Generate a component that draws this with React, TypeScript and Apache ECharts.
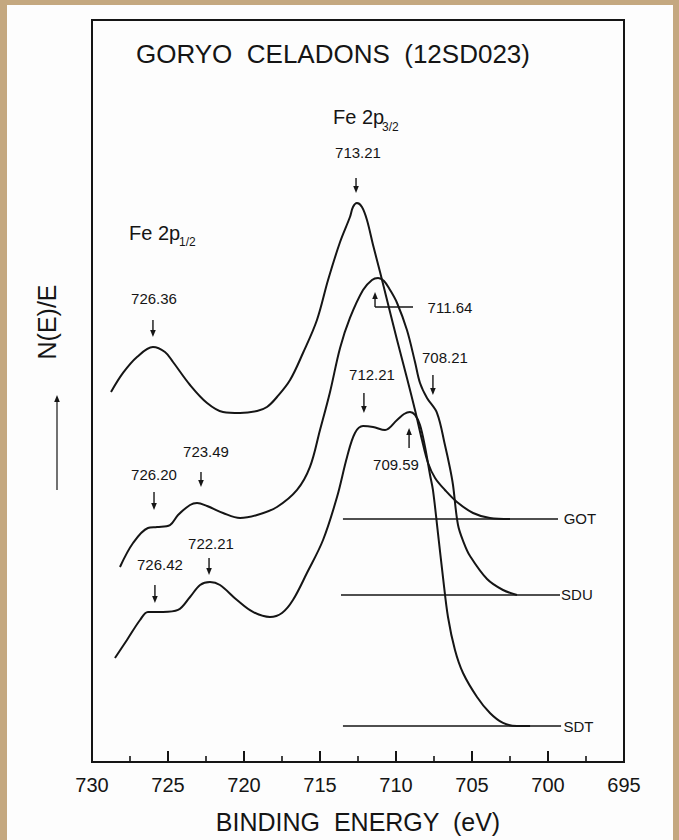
import React, { useEffect, useRef } from 'react';
import * as echarts from 'echarts';

const FONT = '"Liberation Sans", Arial, Helvetica, sans-serif';
const INK = '#151515';

// x axis (binding energy, eV)
const xMin = 695;
const xMax = 730;
const xInterval = 5;

// spectra: [binding energy (eV), N(E)/E arbitrary units]
const gotCurve = [
  [728.75, 49.87], [727.96, 52.43], [727.04, 54.58], [725.99, 55.93], [725.2, 55.26],
  [724.67, 53.91], [723.55, 50.81], [722.43, 48.38], [721.38, 47.17], [720.26, 47.03],
  [719.14, 47.3], [718.49, 47.84], [717.83, 49.19], [716.97, 51.48], [716.12, 55.12],
  [715.2, 59.57], [714.47, 64.96], [713.68, 70.08], [713.03, 73.45], [712.83, 74.8],
  [712.57, 75.34], [712.24, 74.8], [711.91, 73.05], [711.51, 69.68], [711.05, 66.04],
  [710.59, 62.26], [709.93, 56.87], [709.28, 51.75], [708.75, 47.44], [708.29, 43.4],
  [707.89, 40.3], [707.43, 38.27], [706.78, 36.66], [705.99, 35.04], [704.93, 33.56],
  [703.82, 32.88], [702.5, 32.75],
];

const sduCurve = [
  [728.16, 26.28], [727.3, 29.51], [726.32, 31.54], [725.72, 31.67], [724.87, 31.94],
  [724.34, 33.29], [723.55, 34.64], [723.09, 34.91], [722.43, 34.5], [721.38, 33.56],
  [720.26, 32.88], [719.14, 33.29], [717.83, 34.37], [716.51, 36.66], [715.66, 39.76],
  [715.0, 44.74], [714.34, 49.87], [713.68, 55.8], [713.03, 59.84], [712.17, 63.61],
  [711.58, 64.96], [711.18, 65.23], [710.79, 64.83], [710.39, 63.61], [709.93, 61.86],
  [709.28, 58.22], [708.75, 53.91], [708.42, 51.08], [707.96, 49.06], [707.3, 47.03],
  [706.78, 42.72], [706.45, 39.62], [706.25, 37.33], [705.92, 31.94], [705.53, 29.51],
  [705.13, 27.76], [704.01, 24.66], [702.96, 23.18], [702.04, 22.51],
];

const sdtCurve = [
  [728.49, 14.02], [727.7, 16.44], [726.84, 19.14], [726.32, 20.22], [725.33, 20.22],
  [724.34, 20.49], [723.55, 22.24], [722.89, 23.85], [722.24, 24.26], [721.58, 23.85],
  [720.46, 21.83], [719.41, 20.22], [718.29, 19.54], [717.5, 20.08], [716.78, 21.83],
  [715.86, 25.47], [714.8, 29.92], [713.88, 35.71], [713.22, 41.11], [712.7, 44.34],
  [712.17, 45.28], [711.51, 45.15], [710.72, 44.74], [709.93, 46.09], [709.47, 46.9],
  [709.08, 47.17], [708.75, 46.77], [708.42, 45.42], [708.09, 42.45], [707.76, 38.68],
  [707.57, 36.66], [707.24, 30.86], [706.91, 24.93], [706.58, 19.54], [706.12, 15.09],
  [705.59, 11.99], [704.67, 8.76], [703.82, 6.6], [702.96, 5.26], [702.04, 4.85],
  [701.18, 4.85],
];

// baselines of each spectrum
const baselineNames = ['GOT', 'SDU', 'SDT'];
const baselineLevel = [32.75, 22.51, 4.85];
const baselineFrom = [713.49, 713.62, 713.49];
const baselineTo = [699.34, 699.21, 699.14];
const baselineLabelAt = [697.9, 698.1, 698.0];

// peak annotations: label text, label position, arrow x, arrow tail y, arrow head y
const peakLabels = ['713.21', '726.36', '723.49', '726.20', '722.21', '726.42', '712.21', '708.21', '709.59', '711.64'];
const peakLabelE = [712.5, 725.92, 722.5, 725.92, 722.17, 725.53, 711.58, 706.78, 710.0, 706.45];
const peakLabelY = [82.08, 62.53, 41.91, 38.68, 29.51, 26.55, 52.16, 54.58, 40.03, 61.32];
const arrowE = [712.63, 725.99, 722.83, 725.92, 722.3, 725.86, 712.11, 707.57, 709.14, 711.38];
const arrowTail = [78.71, 59.57, 39.08, 36.39, 27.49, 23.85, 49.73, 52.16, 42.32, 61.32];
const arrowHead = [76.68, 57.28, 37.06, 33.96, 25.2, 21.43, 47.03, 49.46, 45.01, 63.34];
// leader line of the 711.64 label
const leaderFrom = [711.38, 61.32];
const leaderTo = [708.88, 61.32];

export default function App() {
  const ref = useRef<HTMLDivElement>(null);

  useEffect(() => {
    const chart = echarts.init(ref.current!, null, { renderer: 'svg' });

    const spectrum = (name: string, data: number[][]) => ({
      type: 'line',
      name,
      data,
      showSymbol: false,
      smooth: 0.35,
      silent: true,
      lineStyle: { color: INK, width: 2 },
      z: 3,
    });

    const baselines = baselineNames.map((n, i) => ({
      type: 'line',
      name: n + ' baseline',
      data: [
        [baselineFrom[i], baselineLevel[i]],
        [baselineTo[i], baselineLevel[i]],
      ],
      showSymbol: false,
      silent: true,
      lineStyle: { color: INK, width: 1.6 },
      z: 2,
    }));

    chart.setOption({
      animation: false,
      backgroundColor: 'transparent',
      grid: {
        left: 92,
        top: 20,
        right: 55,
        bottom: 78,
        show: true,
        borderColor: INK,
        borderWidth: 2,
        backgroundColor: 'transparent',
      },
      xAxis: {
        type: 'value',
        min: xMin,
        max: xMax,
        interval: xInterval,
        inverse: true,
        axisLine: { show: true, lineStyle: { color: INK, width: 2 } },
        axisTick: { show: true, inside: true, length: 11, lineStyle: { color: INK, width: 2 } },
        minorTick: { show: true, splitNumber: 2, length: 6, lineStyle: { color: INK, width: 1.6 } },
        splitLine: { show: false },
        axisLabel: {
          show: true,
          color: INK,
          fontSize: 20,
          fontFamily: FONT,
          margin: 13,
          showMinLabel: true,
          showMaxLabel: true,
        },
      },
      yAxis: {
        type: 'value',
        min: 0,
        max: 100,
        show: false,
      },
      series: [
        spectrum('GOT', gotCurve),
        spectrum('SDU', sduCurve),
        spectrum('SDT', sdtCurve),
        ...baselines,
      ],
    });

    const px = (e: number, v: number) => chart.convertToPixel({ gridIndex: 0 }, [e, v]) as number[];
    const g: any[] = [];

    const text = (t: string, x: number, y: number, size: number, align = 'center', extra: any = {}) => ({
      type: 'text',
      x,
      y,
      z: 10,
      style: {
        text: t,
        fill: INK,
        font: `${size}px ${FONT}`,
        align,
        verticalAlign: 'middle',
        ...extra,
      },
    });

    const arrow = (x: number, y1: number, y2: number, lw = 1.4) => {
      const dir = Math.sign(y2 - y1);
      const hl = 7;
      const hw = 2.8;
      return [
        {
          type: 'line',
          z: 10,
          shape: { x1: x, y1, x2: x, y2: y2 - dir * hl * 0.5 },
          style: { stroke: INK, lineWidth: lw },
        },
        {
          type: 'polygon',
          z: 10,
          shape: { points: [[x, y2], [x - hw, y2 - dir * hl], [x + hw, y2 - dir * hl]] },
          style: { fill: INK },
        },
      ];
    };

    // title and axis names
    g.push(text('GORYO  CELADONS  (12SD023)', 333, 54, 26));
    g.push(text('BINDING  ENERGY  (eV)', 358, 822, 25));
    g.push({
      type: 'text',
      x: 47,
      y: 322,
      rotation: Math.PI / 2,
      z: 10,
      style: { text: 'N(E)/E', fill: INK, font: `25px ${FONT}`, align: 'center', verticalAlign: 'middle' },
    });
    g.push(...arrow(57, 490, 395, 1.2));

    // Fe 2p headings
    g.push(text('Fe 2p', 333, 117, 20, 'left'));
    g.push(text('3/2', 382, 127, 12, 'left'));
    g.push(text('Fe 2p', 129, 233, 20, 'left'));
    g.push(text('1/2', 179, 242, 12, 'left'));

    // peak labels and arrows
    peakLabels.forEach((t, i) => {
      const [lx, ly] = px(peakLabelE[i], peakLabelY[i]);
      g.push(text(t, lx, ly, 15));
      const [ax, ay1] = px(arrowE[i], arrowTail[i]);
      const [, ay2] = px(arrowE[i], arrowHead[i]);
      g.push(...arrow(ax, ay1, ay2));
    });
    const [l1x, l1y] = px(leaderFrom[0], leaderFrom[1]);
    const [l2x, l2y] = px(leaderTo[0], leaderTo[1]);
    g.push({ type: 'line', z: 10, shape: { x1: l1x, y1: l1y, x2: l2x, y2: l2y }, style: { stroke: INK, lineWidth: 1.4 } });

    // spectrum names at baselines
    baselineNames.forEach((n, i) => {
      const [x, y] = px(baselineLabelAt[i], baselineLevel[i]);
      g.push(text(n, x, y, 15));
    });

    chart.setOption({ graphic: g });

    return () => chart.dispose();
  }, []);

  return (
    <div
      ref={ref}
      style={{
        position: 'absolute',
        left: 0,
        top: 0,
        width: 679,
        height: 840,
        background: '#fdfdfd',
        boxShadow: 'inset 7px 5px 0 0 #c4a880, inset -6px 0 0 0 #c4a880',
      }}
    />
  );
}
